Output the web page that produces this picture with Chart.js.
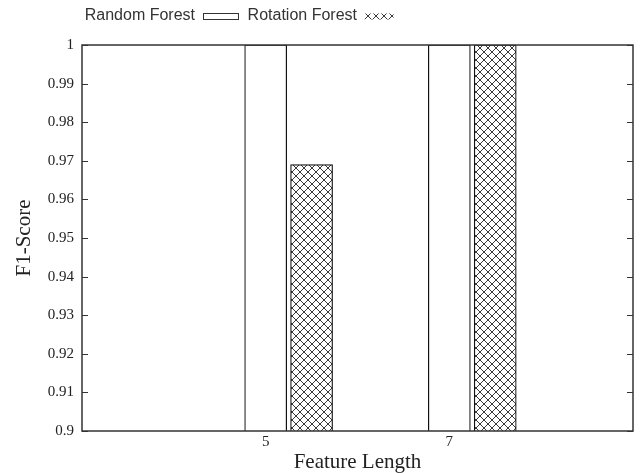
<!DOCTYPE html>
<html>
<head>
<meta charset="utf-8">
<script src="https://cdn.jsdelivr.net/npm/chart.js@4"></script>
<style>
  body { margin: 0; background: #fff; }
  canvas { display: block; }
</style>
</head>
<body>
<canvas id="chart" width="640" height="473"></canvas>
<script>
const categories = ['5', '7'];
const randomForest = [1.0, 1.0];
const rotationForest = [0.969, 1.0];
const seriesNames = ['Random Forest', 'Rotation Forest'];
const yMin = 0.9, yMax = 1, yStep = 0.01;

// crosshatch fill like gnuplot's pattern
function hatch() {
    const c = document.createElement('canvas');
    c.width = 8; c.height = 8;
    const g = c.getContext('2d');
    g.fillStyle = '#fff';
    g.fillRect(0, 0, 8, 8);
    g.strokeStyle = '#222';
    g.lineWidth = 0.9;
    g.beginPath();
    g.moveTo(0, 0); g.lineTo(8, 8);
    g.moveTo(8, 0); g.lineTo(0, 8);
    g.stroke();
    return c;
}
const ctx = document.getElementById('chart').getContext('2d');
const pattern = ctx.createPattern(hatch(), 'repeat');

const frame = {
    id: 'frame',
    afterDatasetsDraw(chart) {
        const { ctx, chartArea: a, scales: { y } } = chart;
        ctx.save();
        ctx.strokeStyle = '#333';
        ctx.lineWidth = 1.5;
        ctx.strokeRect(a.left, a.top, a.right - a.left, a.bottom - a.top);
        ctx.lineWidth = 1.2;
        ctx.beginPath();
        y.ticks.forEach(t => {
            const py = Math.round(y.getPixelForValue(t.value)) + 0.5;
            ctx.moveTo(a.left, py); ctx.lineTo(a.left + 6, py);
            ctx.moveTo(a.right, py); ctx.lineTo(a.right - 6, py);
        });
        ctx.stroke();
        ctx.restore();
    },
    afterDraw(chart) {
        const ctx = chart.ctx;
        ctx.save();
        ctx.font = '16px "Liberation Sans", Arial, sans-serif';
        ctx.fillStyle = '#333';
        ctx.textAlign = 'right';
        ctx.textBaseline = 'middle';
        ctx.fillText(seriesNames[0], 195, 16);
        ctx.fillText(seriesNames[1], 357, 16);
        ctx.strokeStyle = '#333';
        ctx.lineWidth = 1;
        ctx.fillStyle = '#fff';
        ctx.fillRect(203.5, 13.5, 35, 6);
        ctx.strokeRect(203.5, 13.5, 35, 6);
        ctx.fillStyle = pattern;
        ctx.fillRect(364.5, 13.5, 29, 6);
        ctx.restore();
    }
};

new Chart(ctx, {
    type: 'bar',
    data: {
        datasets: [
            {
                label: seriesNames[0],
                data: randomForest.map((v, i) => ({ x: i, y: v })),
                backgroundColor: '#fff',
                borderColor: '#111',
                borderWidth: 1.2,
                grouped: false,
                barThickness: 42
            },
            {
                label: seriesNames[1],
                data: rotationForest.map((v, i) => ({ x: i + 0.25, y: v })),
                backgroundColor: pattern,
                borderColor: '#111',
                borderWidth: 1.2,
                grouped: false,
                barThickness: 42
            }
        ]
    },
    options: {
        responsive: false,
        animation: false,
        layout: { padding: { top: 45, right: 7, left: 0, bottom: 0 } },
        plugins: { legend: { display: false }, tooltip: { enabled: false } },
        scales: {
            x: {
                type: 'linear',
                min: -1,
                max: 2,
                offset: false,
                grid: { display: false, offset: false },
                border: { display: false },
                afterBuildTicks: s => { s.ticks = categories.map((_, i) => ({ value: i })); },
                afterFit: s => { s.height = 42; },
                ticks: {
                    padding: -6,
                    color: '#222',
                    font: { family: '"Liberation Serif", serif', size: 15 },
                    callback: v => categories[v]
                },
                title: {
                    display: true,
                    text: 'Feature Length',
                    color: '#222',
                    padding: 0,
                    font: { family: '"Liberation Serif", serif', size: 21, lineHeight: 1 }
                }
            },
            y: {
                min: yMin,
                max: yMax,
                grid: { display: false, drawTicks: false },
                border: { display: false },
                afterFit: s => { s.width = 82; },
                ticks: {
                    stepSize: yStep,
                    autoSkip: false,
                    padding: 8,
                    color: '#222',
                    font: { family: '"Liberation Serif", serif', size: 15 },
                    callback: v => String(Number(v.toFixed(2)))
                },
                title: {
                    display: true,
                    text: 'F1-Score',
                    color: '#222',
                    padding: { top: 14, bottom: 0 },
                    font: { family: '"Liberation Serif", serif', size: 21, lineHeight: 1 }
                }
            }
        }
    },
    plugins: [frame]
});
</script>
</body>
</html>
